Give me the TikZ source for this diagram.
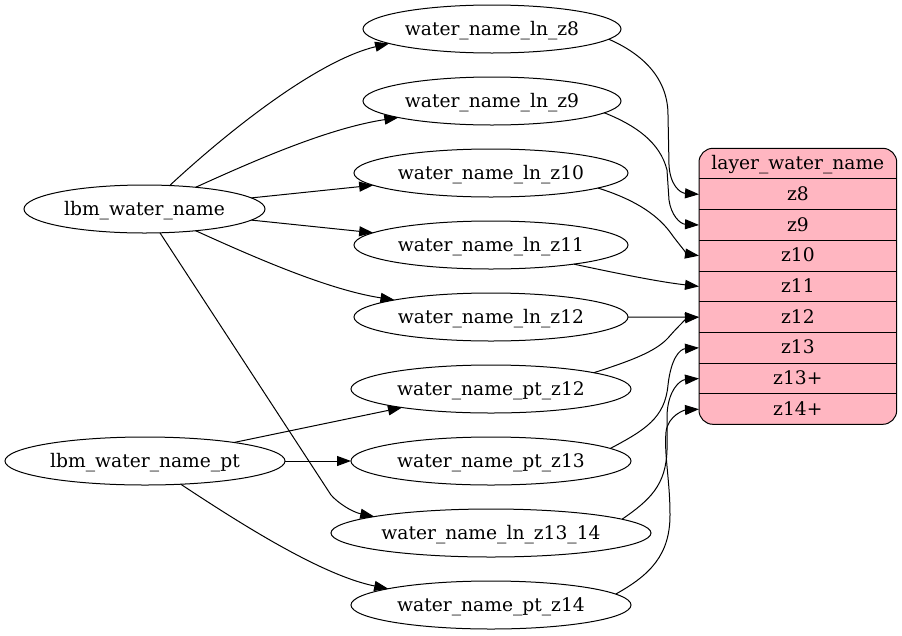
\documentclass[tikz,border=0pt]{standalone}
\usepackage{fontspec}
\setmainfont{DejaVu Serif}
\usetikzlibrary{shapes.geometric,arrows.meta}
\definecolor{lpink}{HTML}{FFB6C1}
\begin{document}
\begin{tikzpicture}[x=1pt,y=-1pt,
 font=\fontsize{18.67}{22}\selectfont,
 ell/.style={draw, ellipse, minimum height=48pt, inner sep=0pt, outer sep=0pt, line width=1pt, text height=12pt, text depth=0pt},
 fld/.style={minimum width=197.7pt, minimum height=30.67pt, inner sep=0pt, outer sep=0pt, text height=12pt, text depth=0pt},
 conn/.style={line width=1pt, -{Triangle[length=14pt,width=10pt]}},
 sep/.style={line width=1pt}]
\useasboundingbox (0,0) rectangle (902,635);
% left nodes
\node[ell, minimum width=241pt] (lw) at (144.5,209) {lbm\_water\_name};
\node[ell, minimum width=280pt] (lpt) at (145,461) {lbm\_water\_name\_pt};
% middle nodes
\node[ell, minimum width=258pt] (z8) at (492,29) {water\_name\_ln\_z8};
\node[ell, minimum width=258pt] (z9) at (492,101) {water\_name\_ln\_z9};
\node[ell, minimum width=274pt] (z10) at (491,173) {water\_name\_ln\_z10};
\node[ell, minimum width=274pt] (z11) at (491,245) {water\_name\_ln\_z11};
\node[ell, minimum width=274pt] (z12) at (491,317) {water\_name\_ln\_z12};
\node[ell, minimum width=280pt] (pz12) at (491,389) {water\_name\_pt\_z12};
\node[ell, minimum width=280pt] (pz13) at (491,461) {water\_name\_pt\_z13};
\node[ell, minimum width=320pt] (z1314) at (491,533) {water\_name\_ln\_z13\_14};
\node[ell, minimum width=280pt] (pz14) at (491,605) {water\_name\_pt\_z14};
% record
\node[draw, fill=lpink, rounded corners=14pt, line width=1pt, minimum width=197.7pt, minimum height=276pt, inner sep=0pt, outer sep=0pt] (layer) at (797.85,286.3) {};
\node[fld] (hdr) at (797.85,163.65) {layer\_water\_name};
\node[fld] (r8) at (797.85,194.3) {z8};
\node[fld] (r9) at (797.85,225) {z9};
\node[fld] (r10) at (797.85,255.7) {z10};
\node[fld] (r11) at (797.85,286.4) {z11};
\node[fld] (r12) at (797.85,317.1) {z12};
\node[fld] (r13) at (797.85,347.8) {z13};
\node[fld] (r13p) at (797.85,378.5) {z13+};
\node[fld] (r14p) at (797.85,409.2) {z14+};
\foreach \n in {hdr,r8,r9,r10,r11,r12,r13,r13p}
  \draw[sep] (\n.south west) -- (\n.south east);
% left edges
\draw[conn] (lw.43.3) .. controls (235,125) and (320,60) .. (z8.-172);
\draw[conn] (lw.23.7) .. controls (260,158) and (330,128) .. (z9.-170);
\draw[conn] (lw) -- (z10);
\draw[conn] (lw) -- (z11);
\draw[conn] (lw.-23.7) .. controls (260,260) and (330,290) .. (z12.170);
\draw[conn] (lw.-57) -- (331,495) .. controls (338,503) and (352,512) .. (z1314.172.3);
\draw[conn] (lpt) -- (pz12);
\draw[conn] (lpt) -- (pz13);
\draw[conn] (lpt.-33.5) .. controls (235,520) and (320,575) .. (pz14.171);
% right edges
\draw[conn] (z8.-5.5) .. controls (645,55) and (668,80) .. (668,115) -- (669,165) .. controls (670,185) and (680,193) .. (r8.west);
\draw[conn] (z9.-6.2) .. controls (635,125) and (660,142) .. (667,170) -- (669,200) .. controls (671,215) and (680,224) .. (r9.west);
\draw[conn] (z10.-8) .. controls (630,198) and (655,212) .. (670,232) .. controls (680,246) and (688,254) .. (r10.west);
\draw[conn] (z11.-13) .. controls (620,274) and (660,282) .. (r11.west);
\draw[conn] (z12.east) -- (r12.west);
\draw[conn] (pz12.9.4) .. controls (630,361) and (655,352) .. (668,338) .. controls (680,324) and (688,318) .. (r12.west);
\draw[conn] (pz13.6.9) .. controls (645,430) and (665,418) .. (668,385) .. controls (671,358) and (680,349) .. (r13.west);
\draw[conn] (z1314.6.8) .. controls (650,500) and (666,485) .. (667,450) -- (667,415) .. controls (668,390) and (680,380) .. (r13p.west);
\draw[conn] (pz14.5.7) .. controls (650,575) and (670,555) .. (670,515) .. controls (670,480) and (664,455) .. (666,432) .. controls (668,415) and (685,410) .. (r14p.west);
\end{tikzpicture}
\end{document}
